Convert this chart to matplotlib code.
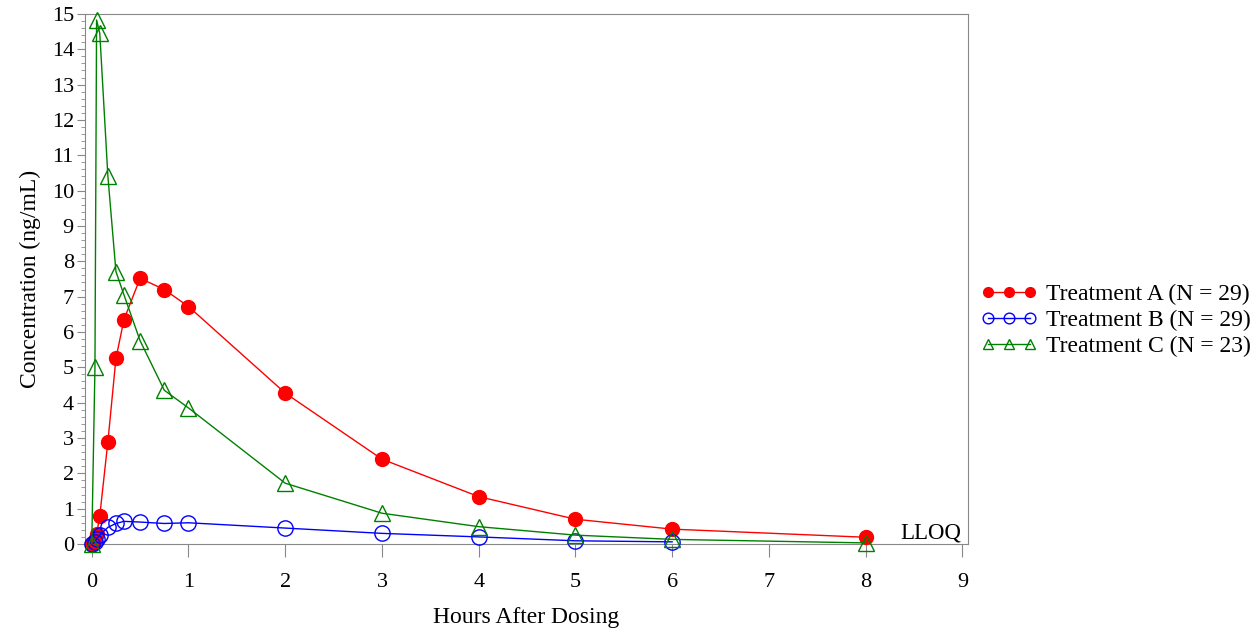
import matplotlib
matplotlib.use("Agg")
import matplotlib.pyplot as plt
from matplotlib.ticker import MultipleLocator

plt.rcParams['font.family'] = ['Liberation Serif', 'DejaVu Serif']

time_a = [0, 0.033, 0.05, 0.083, 0.167, 0.25, 0.333, 0.5, 0.75, 1, 2, 3, 4, 5, 6, 8]
conc_a = [0, 0.1, 0.28, 0.8, 2.9, 5.25, 6.35, 7.52, 7.2, 6.72, 4.27, 2.4, 1.34, 0.70, 0.42, 0.19]

time_b = [0, 0.033, 0.05, 0.083, 0.167, 0.25, 0.333, 0.5, 0.75, 1, 2, 3, 4, 5, 6]
conc_b = [0, 0.05, 0.15, 0.25, 0.47, 0.58, 0.64, 0.62, 0.58, 0.6, 0.45, 0.3, 0.2, 0.09, 0.06]

time_c = [0, 0.033, 0.05, 0.083, 0.167, 0.25, 0.333, 0.5, 0.75, 1, 2, 3, 4, 5, 6, 8]
conc_c = [0, 5.0, 14.83, 14.45, 10.4, 7.71, 7.05, 5.75, 4.35, 3.85, 1.72, 0.87, 0.49, 0.25, 0.13, 0.03]

labels = ["Treatment A (N = 29)", "Treatment B (N = 29)", "Treatment C (N = 23)"]
x_ticks = list(range(0, 10))
y_ticks = list(range(0, 16))

fig = plt.figure(figsize=(12.59, 6.34), dpi=100)
ax = fig.add_axes([0.0675, 0.142, 0.7015, 0.836])

ax.plot(time_a, conc_a, color='red', lw=1, marker='o', ms=10,
        mfc='red', mec='red', label=labels[0], clip_on=False, zorder=3)
ax.plot(time_b, conc_b, color='blue', lw=1, marker='o', ms=11,
        mfc='none', mec='blue', mew=1, label=labels[1], clip_on=False, zorder=4)
ax.plot(time_c, conc_c, color='green', lw=1, marker='^', ms=11,
        mfc='none', mec='green', mew=1, label=labels[2], clip_on=False, zorder=5)

ax.set_xlim(-0.07, 9.06)
ax.set_ylim(0, 15)
ax.set_xticks(x_ticks)
ax.set_yticks(y_ticks)
ax.yaxis.set_minor_locator(MultipleLocator(0.2))
ax.tick_params(axis='both', which='major', labelsize=16, color='#888888')
ax.tick_params(axis='x', which='major', length=9, pad=12)
ax.tick_params(axis='y', which='major', length=6, pad=2)
ax.tick_params(axis='y', which='minor', color='#888888', length=3)
for s in ax.spines.values():
    s.set_color('#888888')

ax.set_xlabel("Hours After Dosing", fontsize=17, labelpad=11)
ax.set_ylabel("Concentration (ng/mL)", fontsize=17, labelpad=8)

ax.text(8.99, 0.02, "LLOQ", ha='right', va='bottom', fontsize=16.5)

leg = fig.legend(loc='upper left', bbox_to_anchor=(0.779, 0.553), frameon=False,
                 numpoints=3, fontsize=17, handlelength=2.4, handletextpad=0.35,
                 labelspacing=0.2, markerscale=0.7, borderpad=0, borderaxespad=0)

fig.savefig("out.png", dpi=100)
